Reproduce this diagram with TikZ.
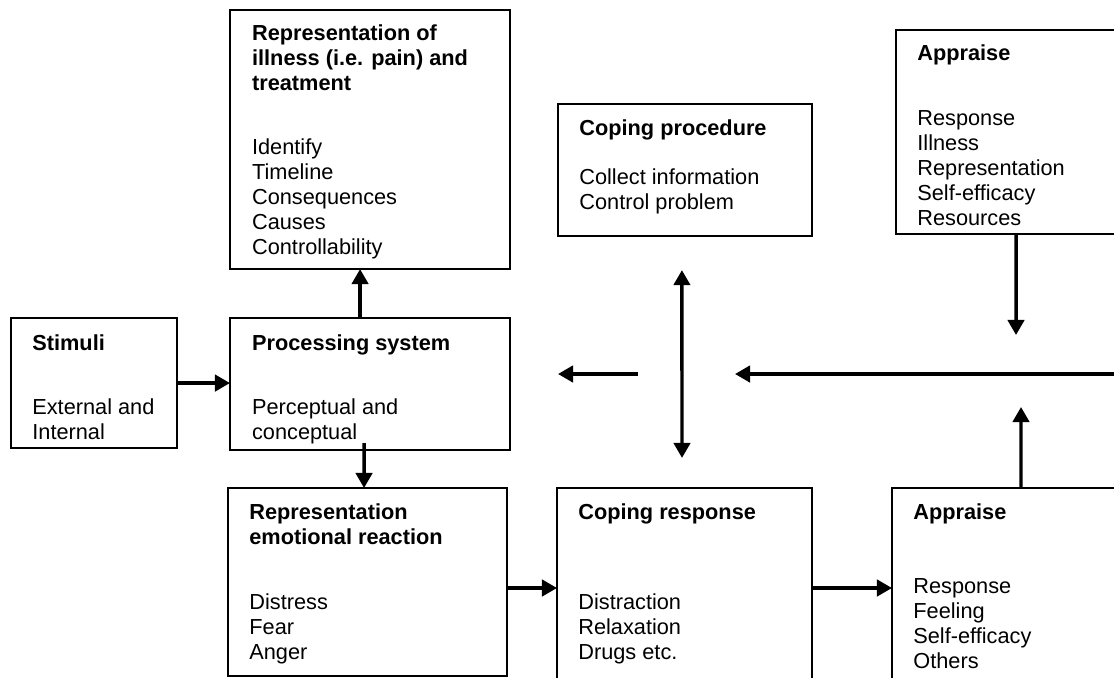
\documentclass[tikz,border=0pt]{standalone}
\usepackage{fontspec}
\setmainfont{Liberation Sans}
\usetikzlibrary{arrows.meta, positioning}

\begin{document}
\begin{tikzpicture}[
        % one unit is one pixel of the page
        x=0.552pt, y=-0.552pt,
        % Node styles
        box/.style={
            draw, line width=1pt, rectangle, anchor=north west,
            inner sep=0pt, outer sep=0pt,
        },
        title/.style={
            inner sep=0pt, align=left,
            font=\fontsize{12pt}{13.8pt}\selectfont\bfseries,
        },
        items/.style={
            inner sep=0pt, align=left,
            font=\fontsize{12pt}{13.8pt}\selectfont,
        },
        % Arrow style
        flow/.style={
            line width=1.9pt, -{Triangle[length=8.3pt, width=9pt]},
        },
        both/.style={
            line width=1.9pt,
            {Triangle[length=8.3pt, width=9pt]}-{Triangle[length=8.3pt, width=9pt]},
        },
    ]
    \useasboundingbox (0,0) rectangle (1114,677);
    \clip (0,0) rectangle (1114,677);

    % --- Boxes ---
    \node[box, minimum width=154.6pt, minimum height=143pt]   (ill)   at (230,10)  {};
    \node[box, minimum width=140.2pt, minimum height=72.9pt]  (proc)  at (558,104) {};
    \node[box, minimum width=127pt,   minimum height=112.6pt] (aptop) at (896,30)  {};
    \node[box, minimum width=91.6pt,  minimum height=71.8pt]  (stim)  at (11,318)  {};
    \node[box, minimum width=154.6pt, minimum height=72.9pt]  (psys)  at (230,318) {};
    \node[box, minimum width=154pt,   minimum height=103.8pt] (emo)   at (228,488) {};
    \node[box, minimum width=140.8pt, minimum height=110.4pt] (cresp) at (557,488) {};
    \node[box, minimum width=127pt,   minimum height=110.4pt] (apbot) at (892,488) {};

    % --- Texts inside the boxes ---
    \node[title, below right=6.9pt and 12pt of ill.north west] (illT)
        {\strut Representation of\\illness (i.e. pain) and\\treatment};
    \node[items, below right=69.8pt and 12pt of ill.north west] (illL)
        {\strut Identify\\Timeline\\Consequences\\Causes\\Controllability};

    \node[title, below right=7.5pt and 11.6pt of proc.north west] (procT)
        {\strut Coping procedure};
    \node[items, below right=34.5pt and 11.6pt of proc.north west] (procL)
        {\strut Collect information\\Control problem};

    \node[title, below right=6.9pt and 11.6pt of aptop.north west] (aptopT)
        {\strut Appraise};
    \node[items, below right=42.8pt and 11.6pt of aptop.north west] (aptopL)
        {\strut Response\\Illness\\Representation\\Self-efficacy\\Resources};

    \node[title, below right=8pt and 11.6pt of stim.north west] (stimT)
        {\strut Stimuli};
    \node[items, below right=43.3pt and 11.6pt of stim.north west] (stimL)
        {\strut External and\\Internal};

    \node[title, below right=8pt and 12pt of psys.north west] (psysT)
        {\strut Processing system};
    \node[items, below right=43.3pt and 12pt of psys.north west] (psysL)
        {\strut Perceptual and\\conceptual};

    \node[title, below right=7.5pt and 11.6pt of emo.north west] (emoT)
        {\strut Representation\\emotional reaction};
    \node[items, below right=57.1pt and 11.6pt of emo.north west] (emoL)
        {\strut Distress\\Fear\\Anger};

    \node[title, below right=7.5pt and 11.6pt of cresp.north west] (crespT)
        {\strut Coping response};
    \node[items, below right=57.1pt and 11.6pt of cresp.north west] (crespL)
        {\strut Distraction\\Relaxation\\Drugs etc.};

    \node[title, below right=7.5pt and 11.6pt of apbot.north west] (apbotT)
        {\strut Appraise};
    \node[items, below right=48.3pt and 11.6pt of apbot.north west] (apbotL)
        {\strut Response\\Feeling\\Self-efficacy\\Others};

    % --- Free ends of the feedback arrows ---
    \coordinate (backR)  at (1120,374);
    \coordinate (backM)  at (735,374);
    \coordinate (leftA)  at (638,374);
    \coordinate (leftB)  at (558,374);
    \coordinate (topEnd) at (1016,335);
    \coordinate (botEnd) at (1021,407);
    \coordinate (dblTop) at ([xshift=-1.7pt, yshift=-18.8pt]proc.south);
    \coordinate (dblBot) at ([xshift=-1.4pt, yshift=16.6pt]cresp.north);

    % --- Connectors ---
    \draw[flow] ([xshift=-5.5pt]psys.north) -- ([xshift=-5.5pt]ill.south);
    \draw[flow] (stim.east) -- (stim.east -| psys.west);
    \draw[flow] ([xshift=-3.3pt, yshift=3.9pt]psys.south) -- ([xshift=-1.9pt]emo.north);
    \draw[flow] ([yshift=-3.3pt]emo.east) -- (cresp.west);
    \draw[flow] (cresp.east) -- (cresp.east -| apbot.west);
    \draw[both] (dblTop) -- (dblBot);
    \draw[flow] ([xshift=2.8pt]aptop.south) -- (topEnd);
    \draw[flow] ([xshift=7.7pt]apbot.north) -- (botEnd);
    \draw[flow] (backR) -- (backM);
    \draw[flow] (leftA) -- (leftB);

\end{tikzpicture}
\end{document}
